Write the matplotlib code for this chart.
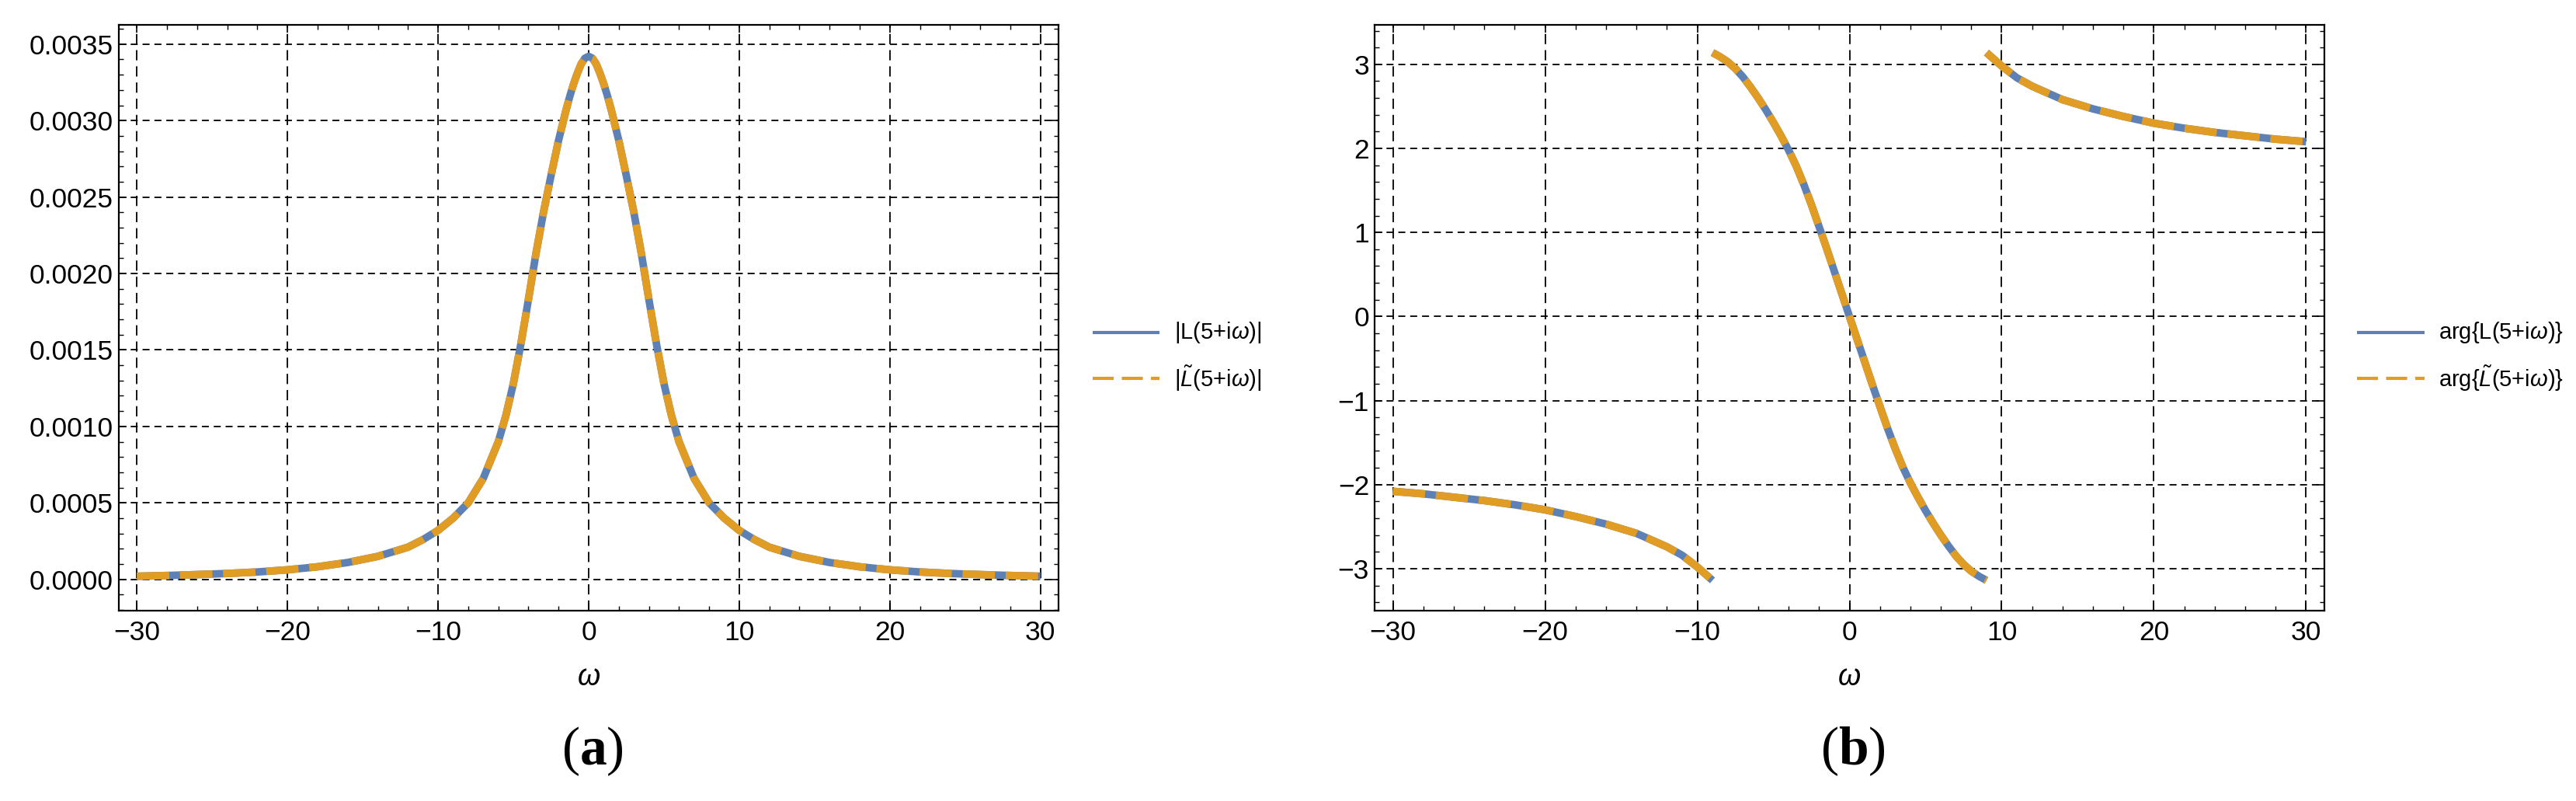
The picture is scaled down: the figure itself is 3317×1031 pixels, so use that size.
import matplotlib
matplotlib.use("Agg")
import matplotlib.pyplot as plt
from matplotlib.lines import Line2D
from matplotlib.ticker import MultipleLocator, FormatStrFormatter

plt.rcParams['font.family'] = ['Liberation Sans', 'DejaVu Sans']
plt.rcParams['mathtext.fontset'] = 'custom'
plt.rcParams['mathtext.rm'] = 'Liberation Sans'
plt.rcParams['mathtext.it'] = 'Liberation Sans:italic'
plt.rcParams['mathtext.bf'] = 'Liberation Serif:bold'
plt.rcParams['lines.scale_dashes'] = False

# ---------------- data ----------------
omega_a = [-30, -28, -26, -24, -22, -20, -18, -16, -14, -12, -11, -10, -9, -8, -7, -6,
           -5.5, -5, -4.5, -4, -3.5, -3, -2.5, -2, -1.5, -1.25, -1, -0.75, -0.5, -0.25, 0,
           0.25, 0.5, 0.75, 1, 1.25, 1.5, 2, 2.5, 3, 3.5, 4, 4.5, 5, 5.5, 6, 7, 8, 9, 10,
           11, 12, 14, 16, 18, 20, 22, 24, 26, 28, 30]
absL = [0.000020, 0.000025, 0.000031, 0.000038, 0.000048, 0.000062, 0.000082, 0.000110,
        0.000150, 0.000210, 0.000260, 0.000320, 0.000400, 0.000500, 0.000660, 0.000900,
        0.001070, 0.001280, 0.001540, 0.001830, 0.002130, 0.002400, 0.002640, 0.002870,
        0.003070, 0.003160, 0.003240, 0.003310, 0.003370, 0.003408, 0.003420,
        0.003408, 0.003370, 0.003310, 0.003240, 0.003160, 0.003070, 0.002870, 0.002640,
        0.002400, 0.002130, 0.001830, 0.001540, 0.001280, 0.001070, 0.000900, 0.000660,
        0.000500, 0.000400, 0.000320, 0.000260, 0.000210, 0.000150, 0.000110, 0.000082,
        0.000062, 0.000048, 0.000038, 0.000031, 0.000025, 0.000020]

omega_left = [-30, -28, -26, -24, -22, -20, -18, -16, -14, -12, -11, -10, -9.5, -9.0]
arg_left = [-2.08, -2.11, -2.15, -2.19, -2.24, -2.30, -2.38, -2.47, -2.58, -2.74, -2.84,
            -2.98, -3.06, -3.14]
omega_mid = [-9.0, -8.5, -8, -7.5, -7, -6.5, -6, -5.5, -5, -4.5, -4, -3.5, -3, -2.5, -2,
             -1.5, -1, -0.5, 0, 0.5, 1, 1.5, 2, 2.5, 3, 3.5, 4, 4.5, 5, 5.5, 6, 6.5, 7,
             7.5, 8, 8.5, 9.0]
arg_mid = [3.14, 3.09, 3.03, 2.95, 2.85, 2.73, 2.60, 2.46, 2.31, 2.15, 1.98, 1.79, 1.57,
           1.33, 1.07, 0.81, 0.54, 0.27, 0.0, -0.27, -0.54, -0.81, -1.07, -1.33, -1.57,
           -1.79, -1.98, -2.15, -2.31, -2.46, -2.60, -2.73, -2.85, -2.95, -3.03, -3.09, -3.14]
omega_right = [9.0, 9.5, 10, 11, 12, 14, 16, 18, 20, 22, 24, 26, 28, 30]
arg_right = [3.14, 3.06, 2.98, 2.84, 2.74, 2.58, 2.47, 2.38, 2.30, 2.24, 2.19, 2.15, 2.11, 2.08]

xticks = [-30, -20, -10, 0, 10, 20, 30]
yticks_a = [0.0000, 0.0005, 0.0010, 0.0015, 0.0020, 0.0025, 0.0030, 0.0035]
yticks_b = [-3, -2, -1, 0, 1, 2, 3]
legend_a = [r"|L(5+i$\omega$)|", r"|$\tilde{L}$(5+i$\omega$)|"]
legend_b = [r"arg{L(5+i$\omega$)}", r"arg{$\tilde{L}$(5+i$\omega$)}"]
panel_labels = ["a", "b"]
xlabel = r"$\omega$"

# ---------------- styling ----------------
BLUE = '#5E81B5'
ORANGE = '#E19C24'
W, H = 3317, 1031
DPI = 100
fig = plt.figure(figsize=(W / DPI, H / DPI), dpi=DPI)

def fx(px):
    return px / W

def fy(py):
    return 1 - py / H

top_px, bot_px = 32, 786
ax_a = fig.add_axes([fx(153), fy(bot_px), fx(1363 - 153), (bot_px - top_px) / H])
ax_b = fig.add_axes([fx(1770), fy(bot_px), fx(2993 - 1770), (bot_px - top_px) / H])

CURVE_LW = 7.0
DASH = (0, (30, 10))

def style(ax):
    ax.set_xlim(-31.2, 31.2)
    ax.set_xticks(xticks)
    ax.xaxis.set_minor_locator(MultipleLocator(2))
    ax.tick_params(which='both', direction='in', top=True, right=True,
                   labelsize=25.5, colors='black')
    ax.tick_params(which='major', length=7.5, width=1.2)
    ax.tick_params(which='minor', length=4, width=1.0)
    ax.tick_params(axis='x', which='major', pad=9)
    ax.tick_params(axis='y', which='major', pad=5)
    for s in ax.spines.values():
        s.set_linewidth(1.6)
        s.set_color('black')
    ax.xaxis.grid(True, which='major', color='black', lw=1.3, linestyle=(0, (9.5, 5.5)))
    ax.yaxis.grid(True, which='major', color='black', lw=1.3, linestyle=(0, (6.5, 4.5)))
    ax.set_axisbelow(True)

# panel a
style(ax_a)
ax_a.set_ylim(-0.000205, 0.003626)
ax_a.set_yticks(yticks_a)
ax_a.yaxis.set_minor_locator(MultipleLocator(0.0001))
ax_a.yaxis.set_major_formatter(FormatStrFormatter('%.4f'))
ax_a.plot(omega_a, absL, color=BLUE, lw=CURVE_LW, solid_capstyle='butt',
          solid_joinstyle='round', zorder=3)
ax_a.plot(omega_a, absL, color=ORANGE, lw=CURVE_LW, linestyle=DASH,
          dash_capstyle='butt', dash_joinstyle='round', zorder=4)

# panel b
style(ax_b)
ax_b.set_ylim(-3.5, 3.47)
ax_b.set_yticks(yticks_b)
ax_b.yaxis.set_minor_locator(MultipleLocator(0.2))
for xs, ys in [(omega_left, arg_left), (omega_mid, arg_mid), (omega_right, arg_right)]:
    ax_b.plot(xs, ys, color=BLUE, lw=CURVE_LW, solid_capstyle='butt',
              solid_joinstyle='round', zorder=3)
    ax_b.plot(xs, ys, color=ORANGE, lw=CURVE_LW, linestyle=DASH,
              dash_capstyle='butt', dash_joinstyle='round', zorder=4)

# x labels and panel labels
for cx, lab in [(758, panel_labels[0]), (2381, panel_labels[1])]:
    fig.text(fx(cx), fy(872), xlabel, fontsize=27, ha='center', va='center')
    fig.text(fx(cx + 5), fy(967), "(" + r"$\mathbf{" + lab + "}$" + ")",
             family='Liberation Serif', fontsize=50, ha='center', va='center')

# legends
def legend(x0, x1, xt, labels):
    rows = [428, 487]
    fig.add_artist(Line2D([fx(x0), fx(x1)], [fy(rows[0])] * 2, transform=fig.transFigure,
                          color=BLUE, lw=3.0, solid_capstyle='butt'))
    fig.add_artist(Line2D([fx(x0), fx(x1)], [fy(rows[1])] * 2, transform=fig.transFigure,
                          color=ORANGE, lw=3.0, linestyle=(0, (19.5, 7.5)),
                          dash_capstyle='butt'))
    for r, lab in zip(rows, labels):
        fig.text(fx(xt), fy(r), lab, fontsize=21, ha='left', va='center')

legend(1407, 1493, 1512, legend_a)
legend(3035, 3122, 3140, legend_b)

fig.savefig("out.png", dpi=DPI, facecolor='white')
